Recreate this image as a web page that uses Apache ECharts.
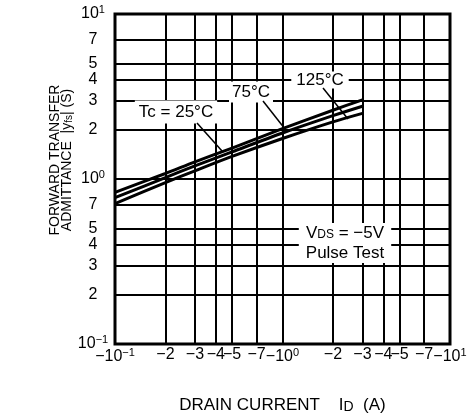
<!DOCTYPE html>
<html><head><meta charset="utf-8">
<script src="https://cdn.jsdelivr.net/npm/echarts@6/dist/echarts.min.js"></script>
<style>html,body{margin:0;padding:0;background:#fff}#c{width:468px;height:419px}</style>
</head><body><div id="c"></div>
<script>
// |ID| (A); the drain current is negative (P-channel), labels carry the minus sign
const currents = [0.1, 0.2, 0.3, 0.5, 1, 2, 3];
const yfs25  = [0.83, 1.08, 1.27, 1.54, 2.02, 2.61, 3.02];
const yfs75  = [0.77, 1.02, 1.20, 1.46, 1.90, 2.42, 2.76];
const yfs125 = [0.71, 0.95, 1.12, 1.37, 1.76, 2.22, 2.50];
const seriesNames = ['Tc = 25°C', '75°C', '125°C'];

const xTicks = [0.1, 0.2, 0.3, 0.4, 0.5, 0.7, 1, 2, 3, 4, 5, 7, 10];
const xTickLabels = ['{m|−10}{sup|−1}', '−2', '−3', '−4', '−5', '−7', '{m|−10}{sup|0}', '−2', '−3', '−4', '−5', '−7', '{m|−10}{sup|1}'];
const yTicks = [0.1, 0.2, 0.3, 0.4, 0.5, 0.7, 1, 2, 3, 4, 5, 7, 10];
const yTickLabels = ['{m|10}{sup|−1}', '2', '3', '4', '5', '7', '{m|10}{sup|0}', '2', '3', '4', '5', '7', '{m|10}{sup|1}'];

const FONT = '"Liberation Sans", Arial, Helvetica, sans-serif';
const chart = echarts.init(document.getElementById('c'), null, {renderer: 'canvas'});

const tickRich = {
  m: {fontSize: 16, fontFamily: FONT, color: '#000'},
  sup: {fontSize: 11, fontFamily: FONT, color: '#000', padding: [0, 0, 9, 0]}
};

const gridLines = [];
xTicks.forEach((v, i) => gridLines.push({
  xAxis: v,
  label: {formatter: xTickLabels[i], position: 'start', distance: 3}
}));
yTicks.forEach((v, i) => gridLines.push({
  yAxis: v,
  label: {formatter: yTickLabels[i], position: 'start', distance: 22, align: 'center'}
}));

function pairs(ys) { return currents.map((x, i) => [x, ys[i]]); }

function curve(name, ys) {
  return {
    name: name, type: 'line', data: pairs(ys), smooth: 0.3, symbol: 'none', z: 5,
    lineStyle: {color: '#000', width: 3}, silent: true, animation: false
  };
}

chart.setOption({
  animation: false,
  backgroundColor: '#fff',
  grid: {left: 115, right: 18, top: 14, bottom: 72, show: true, borderColor: '#000', borderWidth: 3, backgroundColor: 'transparent'},
  xAxis: {
    type: 'log', logBase: 10, min: 0.1, max: 10,
    axisLine: {show: false}, axisTick: {show: false}, axisLabel: {show: false}, splitLine: {show: false},
    name: '{t|DRAIN CURRENT    I}{s|D}{t|  (A)}', nameLocation: 'middle', nameGap: 53,
    nameTextStyle: {rich: {
      t: {fontSize: 17, fontFamily: FONT, color: '#000'},
      s: {fontSize: 14, fontFamily: FONT, color: '#000', verticalAlign: 'bottom'}
    }}
  },
  yAxis: {
    type: 'log', logBase: 10, min: 0.1, max: 10,
    axisLine: {show: false}, axisTick: {show: false}, axisLabel: {show: false}, splitLine: {show: false}
  },
  series: [
    {
      type: 'line', data: [], z: 2, silent: true, animation: false,
      markLine: {
        silent: true, animation: false, symbol: ['none', 'none'],
        lineStyle: {color: '#000', width: 2, type: 'solid'},
        label: {show: true, fontSize: 16, fontFamily: FONT, color: '#000', rich: tickRich},
        emphasis: {disabled: true},
        data: gridLines
      }
    },
    curve(seriesNames[0], yfs25),
    curve(seriesNames[1], yfs75),
    curve(seriesNames[2], yfs125)
  ],
  graphic: [
    {type: 'text', x: 55, y: 160, rotation: Math.PI / 2, z: 10,
     style: {text: 'FORWARD TRANSFER', fontSize: 14, fontFamily: FONT, fill: '#000', align: 'center', verticalAlign: 'middle'}},
    {type: 'text', x: 67, y: 160, rotation: Math.PI / 2, z: 10,
     style: {text: '{a|ADMITTANCE  |y}{s|fs}{a|| (S)}', align: 'center', verticalAlign: 'middle',
       rich: {a: {fontSize: 14, fontFamily: FONT, fill: '#000'}, s: {fontSize: 10, fontFamily: FONT, fill: '#000', verticalAlign: 'bottom'}}}},
    // annotation labels
    {type: 'text', x: 176, y: 112, z: 10,
     style: {text: seriesNames[0], fontSize: 17, fontFamily: FONT, fill: '#000', align: 'center', verticalAlign: 'middle', backgroundColor: '#fff', padding: [3, 4]}},
    {type: 'text', x: 251, y: 92, z: 10,
     style: {text: seriesNames[1], fontSize: 17, fontFamily: FONT, fill: '#000', align: 'center', verticalAlign: 'middle', backgroundColor: '#fff', padding: [2, 3]}},
    {type: 'text', x: 320, y: 80, z: 10,
     style: {text: seriesNames[2], fontSize: 17, fontFamily: FONT, fill: '#000', align: 'center', verticalAlign: 'middle', backgroundColor: '#fff', padding: [0, 5]}},
    {type: 'text', x: 345, y: 243, z: 10,
     style: {text: '{a|V}{s|DS}{a| = −5V}\n{a|Pulse Test}', align: 'center', verticalAlign: 'middle', backgroundColor: '#fff', padding: [0, 7],
       rich: {a: {fontSize: 17, fontFamily: FONT, fill: '#000', lineHeight: 20}, s: {fontSize: 12, fontFamily: FONT, fill: '#000', lineHeight: 20, padding: [4, 0, 0, 0]}}}},
    // leader lines
    {type: 'line', z: 11, shape: {x1: 197, y1: 123, x2: 222, y2: 151}, style: {stroke: '#000', lineWidth: 1.5}},
    {type: 'line', z: 11, shape: {x1: 263, y1: 101, x2: 285, y2: 129}, style: {stroke: '#000', lineWidth: 1.5}},
    {type: 'line', z: 11, shape: {x1: 323, y1: 88, x2: 348, y2: 119}, style: {stroke: '#000', lineWidth: 1.5}}
  ]
});
</script></body></html>
